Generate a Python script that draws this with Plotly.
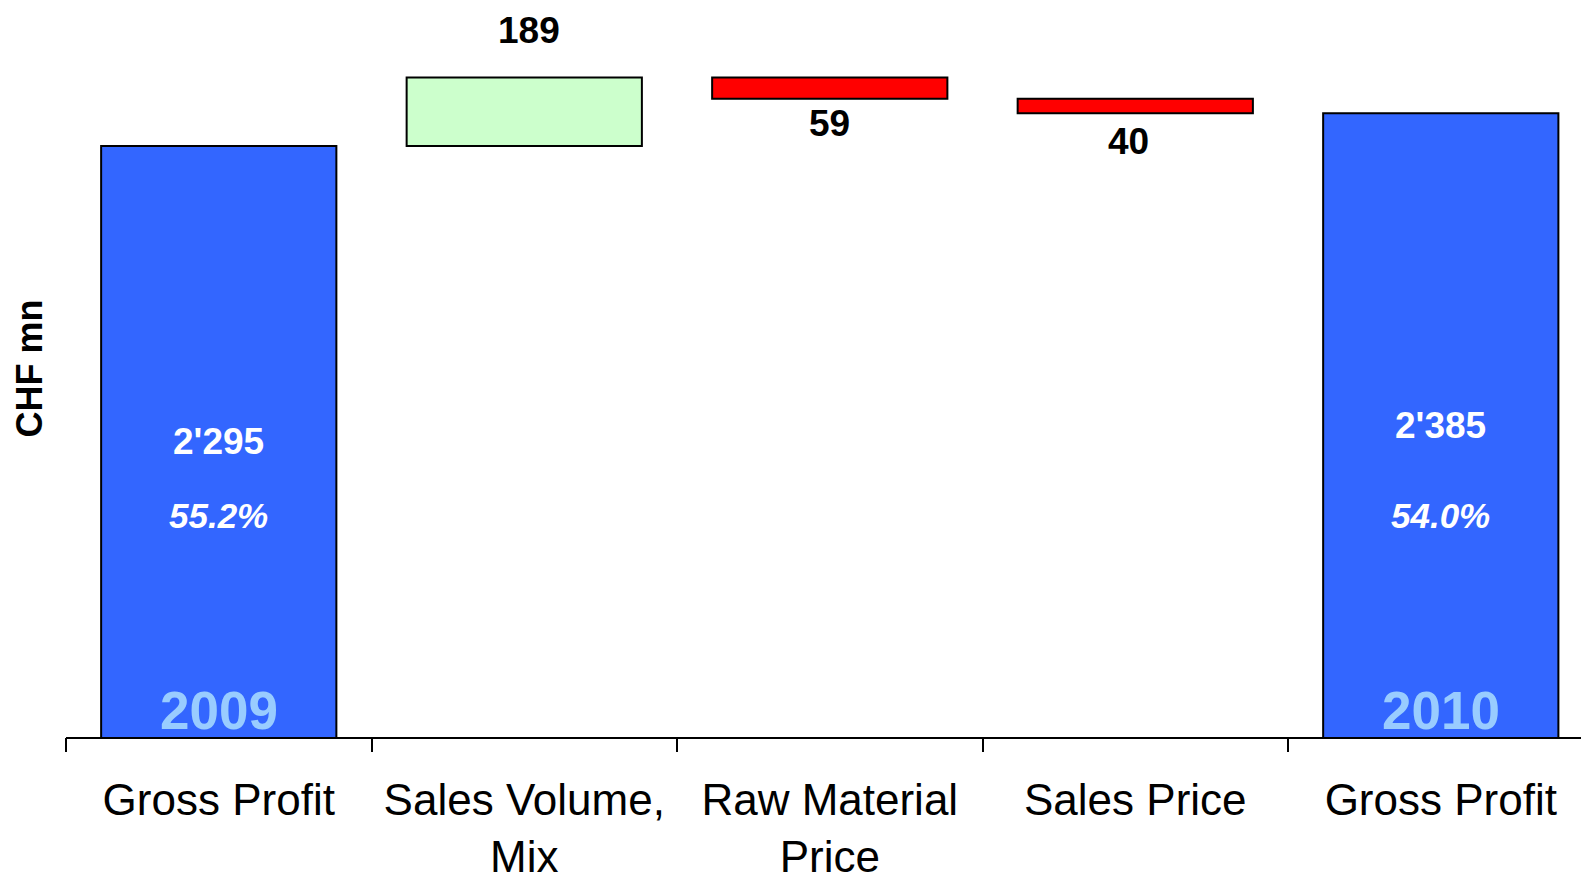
import plotly.graph_objects as go

# ---- data ----
categories = ["Gross Profit", "Sales Volume,<br>Mix", "Raw Material<br>Price", "Sales Price", "Gross Profit"]
measures = ["absolute", "relative", "relative", "relative", "total"]
values = [2295, 189, -59, -40, 2385]
value_labels = ["2'295", "189", "59", "40", "2'385"]
margin_labels = ["55.2%", None, None, None, "54.0%"]
year_labels = ["2009", None, None, None, "2010"]

y_min, y_max = 662, 2698

BLUE = "#3366FF"
GREEN = "#CCFFCC"
RED = "#FF0000"
YEAR_COL = "#99CCFF"
FONT = "Liberation Sans, Arial, sans-serif"

# label offsets (pixels) for the change bars
label_xshift = [0, 5, 0, -7, 0]
label_yshift = [0, 47, -25, -28, 0]

xs = list(range(len(categories)))

fig = go.Figure()
fig.add_trace(go.Waterfall(
    x=xs, y=values, measure=measures,
    increasing=dict(marker=dict(color=GREEN, line=dict(color="black", width=2))),
    decreasing=dict(marker=dict(color=RED, line=dict(color="black", width=2))),
    totals=dict(marker=dict(color=BLUE, line=dict(color="black", width=2))),
    connector=dict(visible=False),
    showlegend=False, hoverinfo="skip",
))

# running totals for label placement
cum = []
run = 0
for m, v in zip(measures, values):
    if m == "absolute":
        run = v
        cum.append((0, v))
    elif m == "total":
        cum.append((0, run))
    else:
        cum.append((run, run + v))
        run += v

annotations = []
bold = dict(family=FONT, size=37, color="black")
for i, (m, v) in enumerate(zip(measures, values)):
    lo, hi = cum[i]
    if m in ("absolute", "total"):
        annotations.append(dict(x=i, y=(y_min + hi) / 2, xref="x", yref="y",
                                xanchor="center", yanchor="middle",
                                text="<b>%s</b>" % value_labels[i], showarrow=False,
                                font=dict(family=FONT, size=37, color="white")))
        if margin_labels[i]:
            annotations.append(dict(x=i, y=0.30, xref="x", yref="paper",
                                    xanchor="center", yanchor="middle",
                                    text="<b><i>%s</i></b>" % margin_labels[i], showarrow=False,
                                    font=dict(family=FONT, size=35, color="white")))
        if year_labels[i]:
            annotations.append(dict(x=i, y=0.036, xref="x", yref="paper",
                                    xanchor="center", yanchor="middle",
                                    text="<b>%s</b>" % year_labels[i], showarrow=False,
                                    font=dict(family=FONT, size=53, color=YEAR_COL)))
    elif v > 0:
        annotations.append(dict(x=i, y=max(lo, hi), xref="x", yref="y",
                                text="<b>%s</b>" % value_labels[i], showarrow=False,
                                xanchor="center", yanchor="middle",
                                xshift=label_xshift[i], yshift=label_yshift[i], font=bold))
    else:
        annotations.append(dict(x=i, y=min(lo, hi), xref="x", yref="y",
                                text="<b>%s</b>" % value_labels[i], showarrow=False,
                                xanchor="center", yanchor="middle",
                                xshift=label_xshift[i], yshift=label_yshift[i], font=bold))

annotations.append(dict(x=-0.0238, y=0.5, xref="paper", yref="paper",
                        xanchor="center", yanchor="middle",
                        text="<b>CHF mn</b>", textangle=-90, showarrow=False,
                        font=dict(family=FONT, size=36, color="black")))

x_range = [-0.5, 4.459]
boundaries = [i - 0.5 for i in range(len(categories) + 1)]

fig.update_layout(
    width=1581, height=875,
    margin=dict(l=66, r=0, t=0, b=138, pad=0),
    paper_bgcolor="white", plot_bgcolor="white",
    waterfallgap=0.23,
    annotations=annotations,
    xaxis=dict(range=x_range, tickmode="array", tickvals=xs, ticktext=categories,
               ticks="outside", ticklen=23, tickcolor="rgba(0,0,0,0)",
               showline=True, linecolor="black", linewidth=2,
               showgrid=False, zeroline=False, automargin=False,
               tickfont=dict(family=FONT, size=44, color="black")),
    xaxis2=dict(range=x_range, overlaying="x", anchor="y", side="bottom",
                tickmode="array", tickvals=boundaries, showticklabels=False,
                ticks="outside", ticklen=14, tickwidth=2, tickcolor="black",
                showline=False, showgrid=False, zeroline=False, automargin=False),
    yaxis=dict(range=[y_min, y_max], showticklabels=False, showgrid=False,
               zeroline=False, showline=False, ticks="", automargin=False),
)
# dummy invisible trace to activate xaxis2
fig.add_trace(go.Scatter(x=[None], y=[None], xaxis="x2", showlegend=False, hoverinfo="skip"))

fig.write_html("out.html")
